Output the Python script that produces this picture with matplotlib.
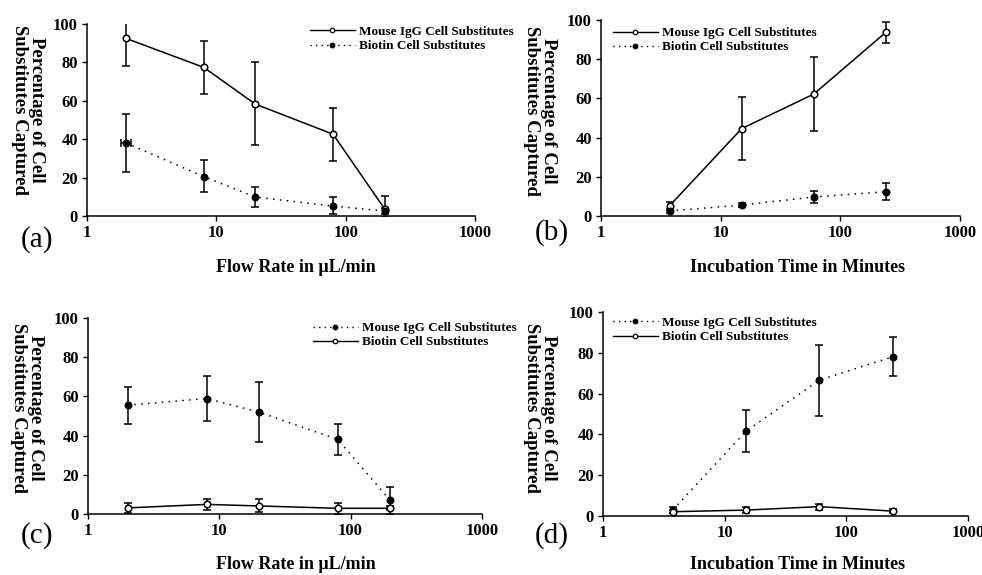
import matplotlib
matplotlib.use("Agg")
import matplotlib.pyplot as plt
from matplotlib.lines import Line2D

plt.rcParams['font.family'] = ['Liberation Serif', 'DejaVu Serif']

# flow rate panels (a), (c)
flow = [2, 8, 20, 80, 200]
# incubation panels (b), (d)
inc_time = [3.75, 15, 60, 240]

# (a) mouse IgG vs biotin, by flow rate
a_mouse = [92.5, 77.4, 58.3, 42.6, 3.8]
a_mouse_lo = [14.5, 14.0, 21.3, 14.0, 4.5]
a_mouse_hi = [8.5, 13.9, 21.7, 13.9, 6.6]
a_biotin = [38.1, 20.5, 9.9, 5.2, 2.6]
a_biotin_lo = [15.1, 8.0, 5.0, 4.3, 1.5]
a_biotin_hi = [15.1, 8.5, 5.4, 4.5, 1.5]
a_biotin_xerr = [0.18, 0, 0, 0, 0]

# (b) by incubation time
b_mouse = [5.3, 44.6, 62.2, 93.7]
b_mouse_err = [2.0, 16.2, 19.0, 5.3]
b_biotin = [2.6, 5.6, 9.7, 12.4]
b_biotin_err = [1.0, 1.2, 3.0, 4.3]

# (c) by flow rate
c_mouse = [55.5, 58.9, 52.0, 38.0, 7.0]
c_mouse_err = [9.5, 11.5, 15.3, 8.0, 6.9]
c_biotin = [3.1, 4.9, 4.1, 2.9, 2.9]
c_biotin_err = [2.5, 3.0, 3.3, 2.8, 1.0]

# (d) by incubation time
d_mouse = [3.0, 41.6, 66.6, 78.0]
d_mouse_err = [1.6, 10.4, 17.4, 9.6]
d_biotin = [2.1, 2.9, 4.6, 2.4]
d_biotin_err = [0.8, 1.5, 1.5, 0.8]

yticks = [0, 20, 40, 60, 80, 100]
xticks = [1, 10, 100, 1000]
xtick_labels = ['1', '10', '100', '1000']

lbl_mouse = 'Mouse IgG Cell Substitutes'
lbl_biotin = 'Biotin Cell Substitutes'
ylab = 'Percentage of Cell\nSubstitutes Captured'
dots = (0, (1, 3.5))

fig = plt.figure(figsize=(9.82, 5.75), dpi=100)

axes_pos = {
    'a': [0.0886, 0.6243, 0.395, 0.334],
    'b': [0.612, 0.6243, 0.3656, 0.341],
    'c': [0.0896, 0.1061, 0.401, 0.341],
    'd': [0.614, 0.1026, 0.3717, 0.3548],
}


def style_axes(ax):
    ax.set_xscale('log')
    ax.set_xlim(1, 1000)
    ax.set_ylim(0, 100)
    ax.minorticks_off()
    ax.set_xticks(xticks)
    ax.set_xticklabels(xtick_labels)
    ax.set_yticks(yticks)
    ax.spines['top'].set_visible(False)
    ax.spines['right'].set_visible(False)
    for s in ['left', 'bottom']:
        ax.spines[s].set_linewidth(1.1)
    ax.tick_params(direction='out', length=3.5, width=1.0, pad=3)
    for t in ax.get_xticklabels() + ax.get_yticklabels():
        t.set_fontweight('bold')
        t.set_fontsize(12)


def open_series(ax, x, y, err, xerr=None):
    ax.errorbar(x, y, yerr=err, xerr=xerr, color='black', lw=1.1, elinewidth=1.1,
                capsize=3.2, capthick=1.1, marker='o', ms=4.7, mfc='white',
                mec='black', mew=1.1, zorder=3)


def filled_series(ax, x, y, err, xerr=None):
    ax.errorbar(x, y, yerr=err, xerr=xerr, color='black', lw=1.1, ls=dots,
                elinewidth=1.1, capsize=3.2, capthick=1.1, marker='o', ms=4.7,
                mfc='black', mec='black', zorder=3)


h_open = Line2D([], [], color='black', lw=1.0, marker='o', ms=3.2, mfc='white', mew=0.9)
h_fill = Line2D([], [], color='black', lw=1.0, ls=(0, (1, 3)), marker='o', ms=3.2, mfc='black')


def add_legend(ax, handles, labels, pos):
    leg = ax.legend(handles, labels, loc='upper left', bbox_to_anchor=pos,
                    bbox_transform=fig.transFigure, frameon=False, borderpad=0,
                    borderaxespad=0, handlelength=3.4, handletextpad=0.3,
                    labelspacing=0.15, numpoints=1,
                    prop={'weight': 'bold', 'size': 9.5})
    return leg


# (a)
ax = fig.add_axes(axes_pos['a'])
open_series(ax, flow, a_mouse, [a_mouse_lo, a_mouse_hi])
filled_series(ax, flow, a_biotin, [a_biotin_lo, a_biotin_hi], xerr=a_biotin_xerr)
style_axes(ax)
add_legend(ax, [h_open, h_fill], [lbl_mouse, lbl_biotin], (0.3157, 0.955))

# (b)
ax = fig.add_axes(axes_pos['b'])
open_series(ax, inc_time, b_mouse, b_mouse_err)
filled_series(ax, inc_time, b_biotin, b_biotin_err)
style_axes(ax)
add_legend(ax, [h_open, h_fill], [lbl_mouse, lbl_biotin], (0.6242, 0.953))

# (c)
ax = fig.add_axes(axes_pos['c'])
filled_series(ax, flow, c_mouse, c_mouse_err)
open_series(ax, flow, c_biotin, c_biotin_err)
style_axes(ax)
add_legend(ax, [h_fill, h_open], [lbl_mouse, lbl_biotin], (0.3187, 0.440))

# (d)
ax = fig.add_axes(axes_pos['d'])
filled_series(ax, inc_time, d_mouse, d_mouse_err)
open_series(ax, inc_time, d_biotin, d_biotin_err)
style_axes(ax)
add_legend(ax, [h_fill, h_open], [lbl_mouse, lbl_biotin], (0.6242, 0.449))

# y labels
for x, y in [(0.0285, 0.809), (0.550, 0.807), (0.0275, 0.290), (0.550, 0.290)]:
    fig.text(x, y, ylab, rotation=270, ha='center', va='center', fontsize=13.5,
             fontweight='bold', multialignment='center', linespacing=1.05)

# x labels
fig.text(0.3014, 0.534, 'Flow Rate in \u03bcL/min', ha='center', va='center',
         fontsize=13, fontweight='bold')
fig.text(0.8126, 0.534, 'Incubation Time in Minutes', ha='center', va='center',
         fontsize=13, fontweight='bold')
fig.text(0.3014, 0.0174, 'Flow Rate in \u03bcL/min', ha='center', va='center',
         fontsize=13, fontweight='bold')
fig.text(0.8126, 0.0174, 'Incubation Time in Minutes', ha='center', va='center',
         fontsize=13, fontweight='bold')

# panel letters
for x, y, s in [(0.0377, 0.5826, '(a)'), (0.5621, 0.5948, '(b)'),
                (0.0377, 0.0678, '(c)'), (0.5621, 0.0678, '(d)')]:
    fig.text(x, y, s, ha='center', va='center', fontsize=21)

fig.savefig('out.png', dpi=100)
